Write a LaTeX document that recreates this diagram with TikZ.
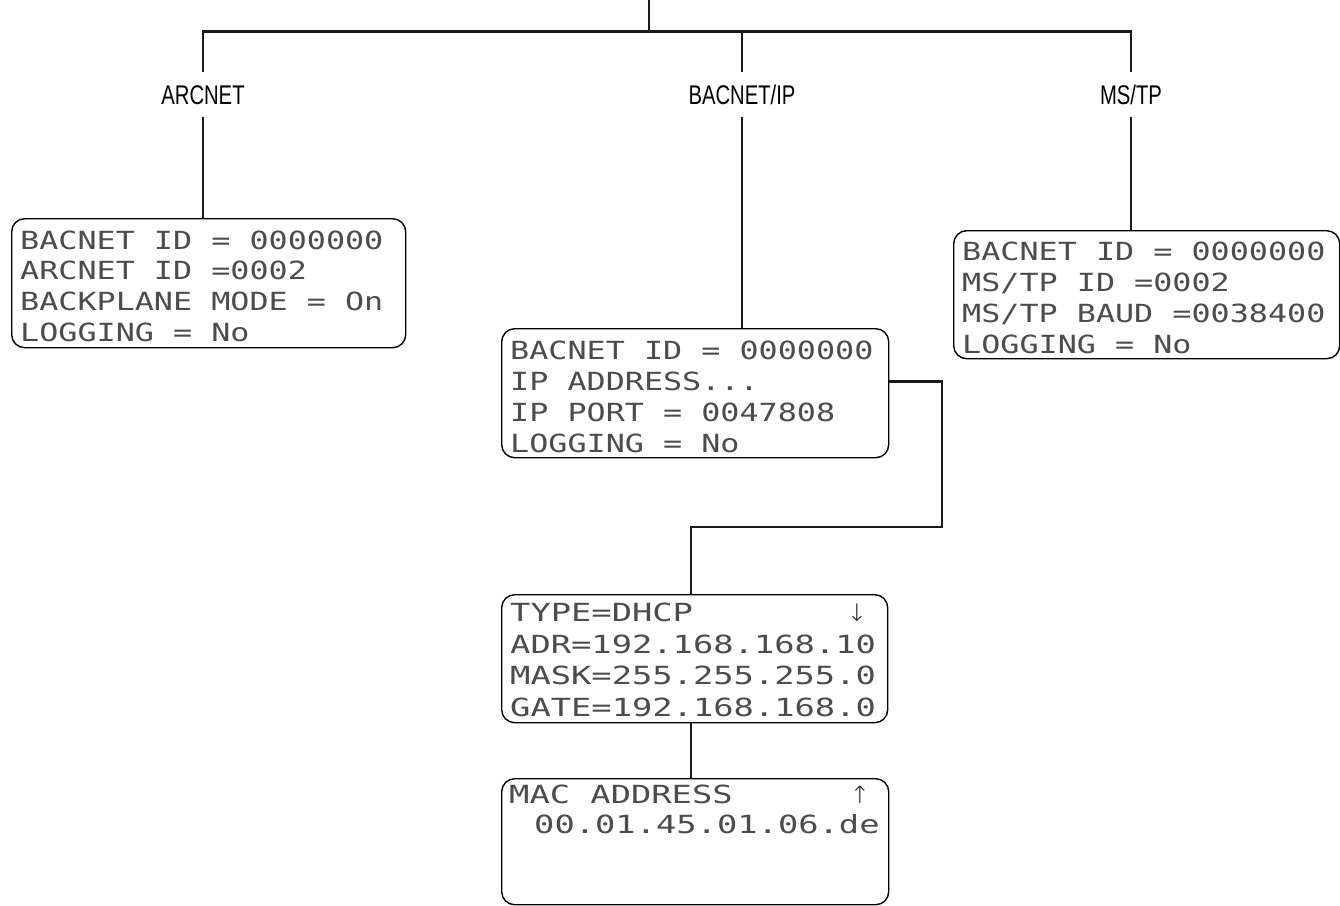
\documentclass[tikz,border=0pt]{standalone}
\usepackage{fontspec}
\newfontfamily\lcdA[FakeStretch=1.27]{DejaVu Sans Mono}
\newfontfamily\lcdB[FakeStretch=1.35]{DejaVu Sans Mono}
\newfontfamily\arrowfont{DejaVu Sans ExtraLight}
\newfontfamily\lblfont[FakeStretch=0.75]{Liberation Sans}
\tikzset{
  lcdbox/.style={draw=black, line width=1.4pt, rounded corners=13pt, inner sep=0pt, anchor=north west},
  lcdline/.style={anchor=base west, inner sep=0pt, text=black!70, font=\lcdA\fontsize{25}{30}\selectfont},
  lcdlineB/.style={lcdline, font=\lcdB\fontsize{25}{30}\selectfont},
  lcdarrow/.style={anchor=base, inner sep=0pt, text=black!85, font=\arrowfont\fontsize{24}{30}\selectfont},
  netlabel/.style={inner sep=0pt, minimum height=45pt, text height=19.3pt, text depth=0pt, font=\lblfont\fontsize{27}{30}\selectfont},
  wire/.style={line width=2.9pt, draw=black!90}
}
\begin{document}
\begin{tikzpicture}[x=1pt,y=-1pt]
\path[use as bounding box] (0,0) rectangle (1340,905);

% network labels
\node[netlabel] (arc) at (203,94.5) {ARCNET};
\node[netlabel] (bip) at (742,94.5) {BACNET/IP};
\node[netlabel] (mstp) at (1131,94.5) {MS/TP};

% boxes
\node[lcdbox, minimum width=394pt, minimum height=129pt] (b1) at (11,218) {};
\node[lcdbox, minimum width=387pt, minimum height=129pt] (b2) at (501,328) {};
\node[lcdbox, minimum width=386pt, minimum height=128pt] (b3) at (953,230) {};
\node[lcdbox, minimum width=386pt, minimum height=128pt] (b4) at (501,594) {};
\node[lcdbox, minimum width=387pt, minimum height=126pt] (b5) at (501,778) {};

% box 1 text
\node[lcdline] (t11) at (20,249) {BACNET ID = 0000000};
\node[lcdline] (t12) at (20,279.7) {ARCNET ID =0002};
\node[lcdline] (t13) at (20,310.4) {BACKPLANE MODE = On};
\node[lcdline] (t14) at (20,341.1) {LOGGING = No};

% box 2 text
\node[lcdline] (t21) at (510,359) {BACNET ID = 0000000};
\node[lcdline] (t22) at (510,390) {IP ADDRESS...};
\node[lcdline] (t23) at (510,421) {IP PORT = 0047808};
\node[lcdline] (t24) at (510,452) {LOGGING = No};

% box 3 text
\node[lcdline] (t31) at (962,260) {BACNET ID = 0000000};
\node[lcdline] (t32) at (962,291) {MS/TP ID =0002};
\node[lcdline] (t33) at (962,322) {MS/TP BAUD =0038400};
\node[lcdline] (t34) at (962,353) {LOGGING = No};

% box 4 text
\node[lcdlineB] (t41) at (510,621.7) {TYPE=DHCP};
\node[lcdarrow] (t4a) at (857,621.7) {↓};
\node[lcdlineB] (t42) at (510,653) {ADR=192.168.168.10};
\node[lcdlineB] (t43) at (510,684.5) {MASK=255.255.255.0};
\node[lcdlineB] (t44) at (510,716) {GATE=192.168.168.0};

% box 5 text
\node[lcdlineB] (t51) at (509,803) {MAC ADDRESS};
\node[lcdarrow] (t5a) at (860,803) {↑};
\node[lcdlineB] (t52) at (534,833) {00.01.45.01.06.de};

% tree connectors
\coordinate (root) at (649,0);
\coordinate (bus) at (649,31.7);
\draw[wire] (root) -- (bus);
\draw[wire] (arc.north) -- (arc.north |- bus) -- (mstp.north |- bus) -- (mstp.north);
\draw[wire] (bip.north) -- (bip.north |- bus);
\draw[wire] (arc.south) -- (arc.south |- b1.north);
\draw[wire] (bip.south) -- (bip.south |- b2.north);
\draw[wire] (mstp.south) -- (mstp.south |- b3.north);

% IP address connector
\coordinate (c1) at (942,381.7);
\coordinate (c2) at (942,527);
\coordinate (c3) at (691,527);
\draw[wire] (b2.east |- c1) -- (c1) -- (c2) -- (c3) -- (c3 |- b4.north);
\draw[wire] (c3 |- b4.south) -- (c3 |- b5.north);
\end{tikzpicture}
\end{document}
